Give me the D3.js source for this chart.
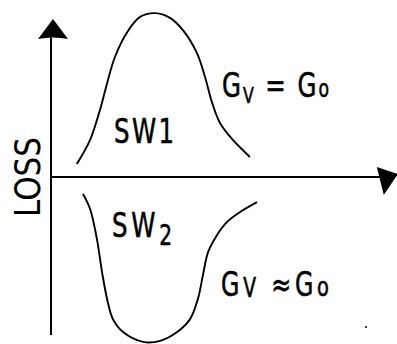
<!DOCTYPE html>
<html>
<head>
<meta charset="utf-8">
<script src="https://cdn.jsdelivr.net/npm/d3@7"></script>
<style>
  body { margin: 0; background: #fff; }
  svg { display: block; }
</style>
</head>
<body>
<script>
const width = 397;
const height = 344;

// switching loss curves (x = arbitrary units, loss = arbitrary units)
const sw1X    = [0.76, 1.15, 1.44, 1.65, 1.88, 2.24, 2.62, 3.06, 3.50, 3.88, 4.29, 4.53, 4.74, 4.97, 5.35, 5.85];
const sw1Loss = [0.38, 1.09, 1.97, 2.76, 3.53, 4.26, 4.71, 4.82, 4.68, 4.32, 3.65, 2.94, 2.18, 1.59, 1.09, 0.59];

const sw2X    = [0.94, 1.15, 1.35, 1.50, 1.65, 1.82, 2.12, 2.71, 3.21, 3.71, 4.09, 4.32, 4.47, 4.62, 4.88, 5.18, 5.56, 6.06];
const sw2Loss = [-0.50, -0.94, -1.82, -2.79, -3.59, -4.18, -4.56, -4.85, -4.82, -4.56, -4.18, -3.59, -2.88, -2.21, -1.71, -1.32, -1.03, -0.74];

const axisLabel = "LOSS";

const x = d3.scaleLinear().domain([0, 10]).range([51, 391]);
const y = d3.scaleLinear().domain([-5, 5]).range([347, 7]);

const svg = d3.select("body")
    .append("svg")
    .attr("width", width)
    .attr("height", height);

const ink = "#000";
const font = "'DejaVu Sans', sans-serif";

// axes
svg.append("line")
    .attr("x1", x(0)).attr("x2", x(0))
    .attr("y1", y(-4.65)).attr("y2", y(4.1))
    .attr("stroke", ink).attr("stroke-width", 2);

svg.append("line")
    .attr("x1", x(0)).attr("x2", x(9.9))
    .attr("y1", y(0)).attr("y2", y(0))
    .attr("stroke", ink).attr("stroke-width", 2.2);

// arrow heads
var ty = y(4.65);
svg.append("path")
    .attr("d", "M" + (x(0) + 2) + "," + ty +
        " L" + (x(0) + 17) + "," + (ty + 20) +
        " Q" + (x(0) + 2) + "," + (ty + 17) + " " + (x(0) - 13) + "," + (ty + 20) + " Z")
    .attr("fill", ink);

var tx = x(10.2);
svg.append("path")
    .attr("d", "M" + (tx - 21) + "," + (y(0) - 10) +
        " L" + tx + "," + (y(0) - 3) +
        " L" + (tx - 14) + "," + (y(0) + 18) + " Z")
    .attr("fill", ink);

// curves
const line = d3.line()
    .x(function(d){ return x(d[0]); })
    .y(function(d){ return y(d[1]); })
    .curve(d3.curveCatmullRom);

svg.append("path")
    .datum(d3.zip(sw1X, sw1Loss))
    .attr("d", line)
    .attr("fill", "none").attr("stroke", ink).attr("stroke-width", 1.9);

svg.append("path")
    .datum(d3.zip(sw2X, sw2Loss))
    .attr("d", line)
    .attr("fill", "none").attr("stroke", ink).attr("stroke-width", 1.9);

// labels (lettering is narrow, so squeeze horizontally)
function label(px, py, len, size, parts){
    var t = svg.append("text")
        .attr("transform", "translate(" + px + "," + py + ") scale(0.72,1)")
        .attr("font-family", font)
        .attr("font-size", size)
        .attr("fill", ink)
        .attr("stroke", ink)
        .attr("stroke-width", 0.6)
        .attr("textLength", len / 0.72)
        .attr("lengthAdjust", "spacing");
    parts.forEach(function(p){
        t.append("tspan")
            .attr("font-size", p.size || size)
            .attr("dy", p.dy || 0)
            .text(p.t);
    });
    return t;
}

label(114, 143, 60, 34, [{t: "SW1"}]);
label(112, 237, 60, 34, [{t: "SW"}, {t: "2", size: 28, dy: 8}]);
label(222, 97, 107, 34, [{t: "G"}, {t: "V", size: 22, dy: 6}, {t: " = ", dy: -6}, {t: "G"}, {t: "o", size: 24}]);
label(221, 296, 108, 33, [{t: "G"}, {t: "V", size: 26, dy: 1}, {t: " ≈", dy: -1}, {t: "G"}, {t: "o", size: 27}]);

svg.append("text")
    .attr("transform", "translate(40," + y(0) + ") rotate(-90)")
    .attr("text-anchor", "middle")
    .attr("font-family", font)
    .attr("font-size", 36)
    .attr("fill", ink)
    .attr("textLength", 80)
    .attr("lengthAdjust", "spacingAndGlyphs")
    .text(axisLabel);

// stray speck from the scan
svg.append("circle")
    .attr("cx", 366).attr("cy", 327).attr("r", 1)
    .attr("fill", ink);
</script>
</body>
</html>
